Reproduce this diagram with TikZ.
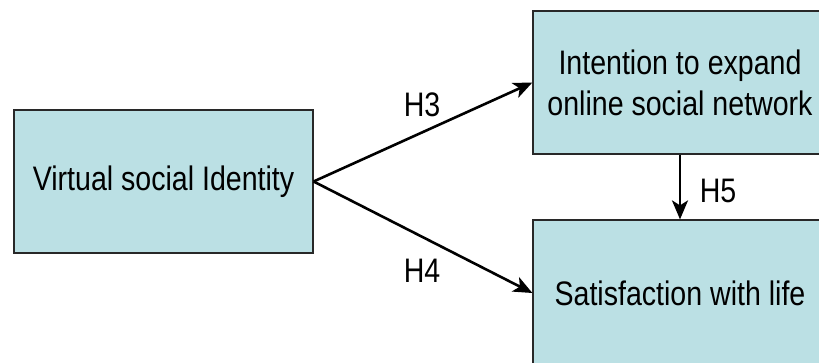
\documentclass[tikz,border=0pt]{standalone}
\usepackage{fontspec}
\setmainfont{Liberation Sans}[FakeStretch=0.84]
\usetikzlibrary{arrows.meta}
\definecolor{boxfill}{RGB}{187,224,228}
\definecolor{boxline}{RGB}{40,40,40}
\begin{document}
\begin{tikzpicture}[x=1pt,y=-1pt,
  box/.style={draw=boxline,line width=1.2pt,fill=boxfill,inner sep=0pt,
    minimum height=143pt,align=center,
    font=\fontsize{34}{41}\selectfont},
  link/.style={line width=2.6pt,-{Stealth[length=19pt,width=16pt,inset=5pt]}},
  hlabel/.style={font=\fontsize{34}{36}\selectfont,inner sep=0pt}]
\useasboundingbox (0,0) rectangle (819,362);
\begin{scope}
\clip (0,0) rectangle (819,362);
\node[box,minimum width=299pt] (vsi) at (163.5,181.5) {Virtual social Identity};
\node[box,minimum width=294pt] (ite) at (680,82.5) {Intention to expand\\online social network};
\node[box,minimum width=294pt,minimum height=146pt] (swl) at (680,293) {Satisfaction with life};
\end{scope}
\draw[link] (vsi.east) -- (ite.west);
\draw[link] (vsi.east) -- (swl.west);
\draw[link] (ite.south) -- (swl.north);
\node[hlabel] (h3) at (422,105) {H3};
\node[hlabel] (h4) at (422,271) {H4};
\node[hlabel] (h5) at (718,191) {H5};
\end{tikzpicture}
\end{document}
